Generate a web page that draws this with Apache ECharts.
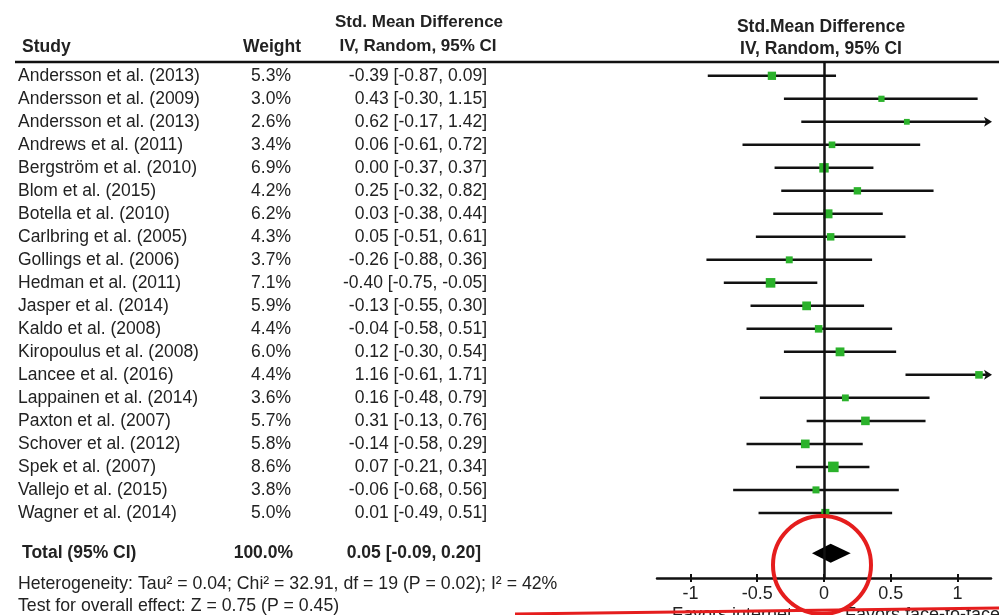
<!DOCTYPE html>
<html><head><meta charset="utf-8">
<script src="https://cdn.jsdelivr.net/npm/echarts@6/dist/echarts.min.js"></script>
<style>html,body{margin:0;padding:0;background:#fff}#c{width:999px;height:615px}</style>
</head><body><div id="c"></div>
<script>
const studies = ["Andersson et al. (2013)","Andersson et al. (2009)","Andersson et al. (2013)","Andrews et al. (2011)","Bergström et al. (2010)","Blom et al. (2015)","Botella et al. (2010)","Carlbring et al. (2005)","Gollings et al. (2006)","Hedman et al. (2011)","Jasper et al. (2014)","Kaldo et al. (2008)","Kiropoulus et al. (2008)","Lancee et al. (2016)","Lappainen et al. (2014)","Paxton et al. (2007)","Schover et al. (2012)","Spek et al. (2007)","Vallejo et al. (2015)","Wagner et al. (2014)"];
const weights = [5.3,3.0,2.6,3.4,6.9,4.2,6.2,4.3,3.7,7.1,5.9,4.4,6.0,4.4,3.6,5.7,5.8,8.6,3.8,5.0];
const estimates = [-0.39,0.43,0.62,0.06,0.00,0.25,0.03,0.05,-0.26,-0.40,-0.13,-0.04,0.12,1.16,0.16,0.31,-0.14,0.07,-0.06,0.01];
const lowers = [-0.87,-0.30,-0.17,-0.61,-0.37,-0.32,-0.38,-0.51,-0.88,-0.75,-0.55,-0.58,-0.30,0.61,-0.48,-0.13,-0.58,-0.21,-0.68,-0.49];
const uppers = [0.09,1.15,1.42,0.72,0.37,0.82,0.44,0.61,0.36,-0.05,0.30,0.51,0.54,1.71,0.79,0.76,0.29,0.34,0.56,0.51];
const ciLabels = ["-0.39 [-0.87, 0.09]","0.43 [-0.30, 1.15]","0.62 [-0.17, 1.42]","0.06 [-0.61, 0.72]","0.00 [-0.37, 0.37]","0.25 [-0.32, 0.82]","0.03 [-0.38, 0.44]","0.05 [-0.51, 0.61]","-0.26 [-0.88, 0.36]","-0.40 [-0.75, -0.05]","-0.13 [-0.55, 0.30]","-0.04 [-0.58, 0.51]","0.12 [-0.30, 0.54]","1.16 [-0.61, 1.71]","0.16 [-0.48, 0.79]","0.31 [-0.13, 0.76]","-0.14 [-0.58, 0.29]","0.07 [-0.21, 0.34]","-0.06 [-0.68, 0.56]","0.01 [-0.49, 0.51]"];
const weightLabels = weights.map(w => w.toFixed(1) + "%");
const pooledEstimate = 0.05, pooledLower = -0.09, pooledUpper = 0.20;
const totalLabels = ["Total (95% CI)", "100.0%", "0.05 [-0.09, 0.20]"];
const xTicks = [-1, -0.5, 0, 0.5, 1];
const xTickLabels = ["-1", "-0.5", "0", "0.5", "1"];
const heterogeneityText = "Heterogeneity: Tau\u00b2 = 0.04; Chi\u00b2 = 32.91, df = 19 (P = 0.02); I\u00b2 = 42%";
const overallText = "Test for overall effect: Z = 0.75 (P = 0.45)";
const favorsLeft = "Favors internet", favorsRight = "Favors face-to-face";

const X_MIN = -1.25, X_MAX = 1.25, TOTAL_ROW = 20.75;
const FONT = '"Liberation Sans", Arial, sans-serif';
const BODY = '17.5px ' + FONT;
const BOLD = 'bold 17.5px ' + FONT;
const TXT = '#222';
const GREEN = '#2bb22b';

const chart = echarts.init(document.getElementById('c'), null, {renderer: 'canvas'});

function txt(x, y, s, opt) {
  return Object.assign({type: 'text', x: x, y: y, style: Object.assign({
    text: s, fill: TXT, font: BODY, textAlign: 'left', textVerticalAlign: 'middle'
  }, opt || {})});
}

const option = {
  animation: false,
  backgroundColor: '#fff',
  grid: {left: 657, right: 8, top: 62, bottom: 37, containLabel: false},
  xAxis: [{
    type: 'value', min: X_MIN, max: X_MAX, position: 'bottom',
    axisLine: {show: true, onZero: false, lineStyle: {color: '#111', width: 2.5}},
    axisTick: {show: true, customValues: xTicks, length: 4, lineStyle: {color: '#111', width: 2}},
    axisLabel: {show: true, customValues: xTicks, margin: 7, color: TXT, fontSize: 18, fontFamily: FONT,
      formatter: v => xTickLabels[xTicks.indexOf(v)] ?? String(v)},
    splitLine: {show: false}
  }, {
    type: 'value', min: X_MIN, max: X_MAX, position: 'bottom', gridIndex: 0,
    axisLine: {show: false, onZero: false},
    axisTick: {show: true, inside: true, customValues: xTicks, length: 4, lineStyle: {color: '#111', width: 2}},
    axisLabel: {show: false}, splitLine: {show: false}
  }],
  yAxis: {type: 'value', inverse: true, min: -0.6, max: 21.83, show: false},
  series: [
    {
      type: 'custom', name: 'ci', coordinateSystem: 'cartesian2d', clip: false,
      data: studies.map((s, i) => [i, lowers[i], uppers[i]]),
      encode: {x: [1, 2], y: 0},
      renderItem: (params, api) => {
        const i = api.value(0), lo = api.value(1), hi = api.value(2);
        const y = api.coord([0, i])[1];
        const x1 = api.coord([Math.max(lo, X_MIN), i])[0];
        const capped = hi > X_MAX;
        const x2 = api.coord([Math.min(hi, X_MAX), i])[0];
        const children = [{type: 'line', shape: {x1: x1, y1: y, x2: capped ? x2 - 4 : x2, y2: y},
          style: {stroke: '#111', lineWidth: 2.5}}];
        if (capped) {
          children.push({type: 'polygon', shape: {points: [[x2 + 1, y], [x2 - 7, y - 5], [x2 - 5, y], [x2 - 7, y + 5]]},
            style: {fill: '#111'}});
        }
        return {type: 'group', children: children};
      },
      markLine: {
        silent: true, symbol: 'none', label: {show: false},
        lineStyle: {color: '#111', width: 2.5, type: 'solid'},
        data: [{xAxis: 0}]
      },
      z: 2
    },
    {
      type: 'scatter', name: 'est', symbol: 'rect',
      data: estimates.map((e, i) => [e, i, weights[i]]),
      symbolSize: v => Math.sqrt(v[2]) * 3.6,
      itemStyle: {color: GREEN, opacity: 1},
      z: 3
    },
    {
      type: 'custom', name: 'pooled', coordinateSystem: 'cartesian2d', clip: false,
      data: [[pooledEstimate, TOTAL_ROW, pooledLower, pooledUpper]],
      renderItem: (params, api) => {
        const c = api.coord([api.value(0), api.value(1)]);
        const l = api.coord([api.value(2), api.value(1)]);
        const r = api.coord([api.value(3), api.value(1)]);
        return {type: 'polygon', shape: {points: [[l[0], c[1]], [c[0], c[1] - 9.5], [r[0], c[1]], [c[0], c[1] + 9.5]]},
          style: {fill: '#000'}};
      },
      z: 3
    },
    {
      type: 'custom', name: 'table', coordinateSystem: 'cartesian2d', clip: false, silent: true,
      data: studies.map((s, i) => [0, i]),
      renderItem: (params, api) => {
        const i = params.dataIndex;
        const y = api.coord([0, api.value(1)])[1];
        return {type: 'group', children: [
          txt(18, y, studies[i]),
          txt(291, y, weightLabels[i], {textAlign: 'right'}),
          txt(487, y, ciLabels[i], {textAlign: 'right'})
        ]};
      },
      z: 1
    },
    {
      type: 'custom', name: 'totalRow', coordinateSystem: 'cartesian2d', clip: false, silent: true,
      data: [[0, TOTAL_ROW]],
      renderItem: (params, api) => {
        const y = api.coord([0, api.value(1)])[1];
        return {type: 'group', children: [
          txt(22, y, totalLabels[0], {font: BOLD}),
          txt(293, y, totalLabels[1], {font: BOLD, textAlign: 'right'}),
          txt(481, y, totalLabels[2], {font: BOLD, textAlign: 'right'})
        ]};
      },
      z: 1
    }
  ],
  graphic: [
    {type: 'line', shape: {x1: 15, y1: 62, x2: 999, y2: 62}, style: {stroke: '#111', lineWidth: 2.5}, z: 10},
    txt(22, 47, 'Study', {font: BOLD}),
    txt(301, 47, 'Weight', {font: BOLD, textAlign: 'right'}),
    txt(419, 22, 'Std. Mean Difference', {font: 'bold 17px ' + FONT, textAlign: 'center'}),
    txt(418, 46, 'IV, Random, 95% CI', {font: 'bold 17px ' + FONT, textAlign: 'center'}),
    txt(821, 27, 'Std.Mean Difference', {font: 'bold 17.5px ' + FONT, textAlign: 'center'}),
    txt(821, 49, 'IV, Random, 95% CI', {font: 'bold 17.5px ' + FONT, textAlign: 'center'}),
    txt(18, 584, heterogeneityText, {font: '17.7px ' + FONT}),
    txt(18, 606, overallText, {font: '17.7px ' + FONT}),
    txt(672, 606, favorsLeft, {font: '18px ' + FONT, textVerticalAlign: 'top'}),
    txt(845, 606, favorsRight, {font: '18px ' + FONT, textVerticalAlign: 'top'}),
    {type: 'circle', shape: {cx: 822, cy: 565, r: 49}, style: {fill: 'none', stroke: '#e51d1d', lineWidth: 4}, z: 20},
    {type: 'line', shape: {x1: 515, y1: 614, x2: 999, y2: 608}, style: {stroke: '#e51d1d', lineWidth: 3}, z: 20}
  ]
};
chart.setOption(option);
</script>
</body></html>
